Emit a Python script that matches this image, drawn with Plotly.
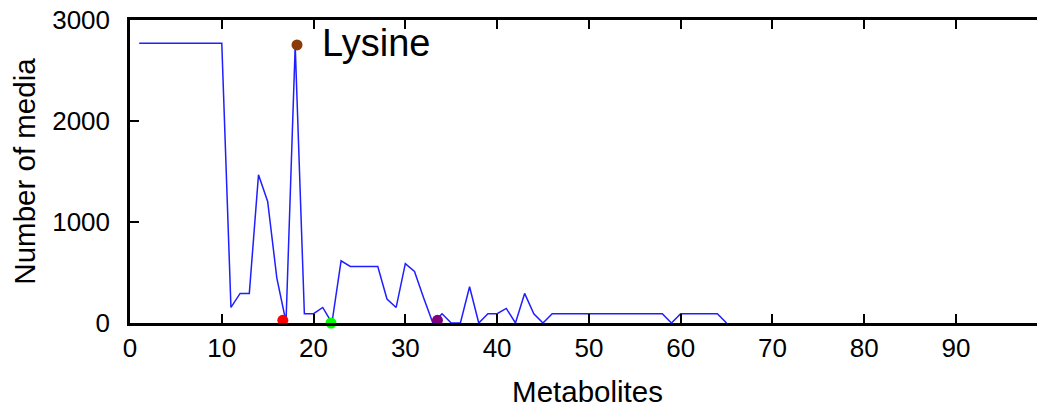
import plotly.graph_objects as go

# Data
metabolites = list(range(1, 66))
num_media = [2770] * 10 + [
    154, 293, 293, 1467, 1203, 445, 10, 2746, 92, 92,
    154, 0, 616, 560, 560, 560, 560, 237, 154, 587,
    511, 247, 0, 92, 0, 0, 359, 0, 92, 92,
    144, 0, 293, 92, 0,
] + [92] * 13 + [0] + [92] * 5 + [0]

marker_x = [16.65, 21.9, 33.5, 18.2]
marker_y = [26, 0, 26, 2753]
marker_colors = ["#ff0000", "#00ff00", "#800080", "#8b3a0a"]

label_text = "Lysine"
label_x = 20.7
label_y = 2775

x_ticks = [0, 10, 20, 30, 40, 50, 60, 70, 80, 90]
y_ticks = [0, 1000, 2000, 3000]

fig = go.Figure()
fig.add_trace(go.Scatter(
    x=metabolites, y=num_media, mode="lines",
    line=dict(color="#1f1fff", width=1.5), showlegend=False, hoverinfo="skip",
))
fig.add_trace(go.Scatter(
    x=marker_x, y=marker_y, mode="markers",
    marker=dict(color=marker_colors, size=11, line=dict(width=0)),
    showlegend=False, cliponaxis=False,
))
fig.add_annotation(
    x=label_x, y=label_y, text=label_text, showarrow=False,
    xanchor="left", yanchor="middle",
    font=dict(family="Liberation Sans, Arial", size=38, color="black"),
)

# page body has an 8px margin, so the figure is sized/offset to compensate
fig.update_layout(
    width=1037, height=400,
    margin=dict(l=122, r=0, t=12, b=85),
    plot_bgcolor="white", paper_bgcolor="white",
    font=dict(family="Liberation Sans, Arial", color="black"),
)
fig.update_xaxes(
    range=[0, 99.7], tickvals=x_ticks, ticks="inside", ticklen=9, tickwidth=1.5,
    tickcolor="black", showline=True, linewidth=2.5, linecolor="black",
    mirror="ticks", showgrid=False, zeroline=False, automargin=False,
    ticklabeloverflow="allow",
    tickfont=dict(size=26), title=dict(text="Metabolites", font=dict(size=29.5), standoff=21),
)
fig.update_yaxes(
    range=[0, 3000], tickvals=y_ticks, ticks="inside", ticklen=9, tickwidth=1.5,
    tickcolor="black", showline=True, linewidth=2.5, linecolor="black",
    mirror=False, showgrid=False, zeroline=False, automargin=False,
    ticklabelstandoff=12, ticklabeloverflow="allow",
    tickfont=dict(size=26), title=dict(text="Number of media", font=dict(size=29.5), standoff=12),
)

fig.write_html("out.html")
